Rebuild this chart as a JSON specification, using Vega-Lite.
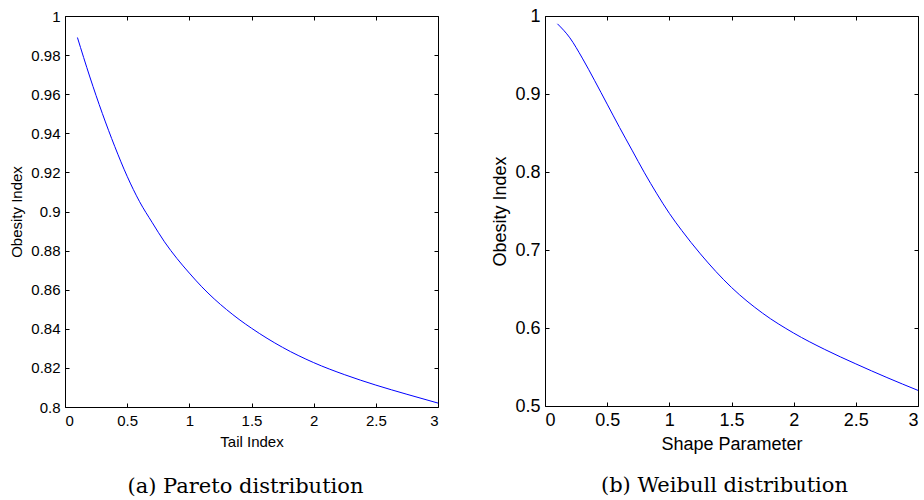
{
  "$schema": "https://vega.github.io/schema/vega-lite/v6.json",
  "background": "white",
  "padding": {"left": 9, "top": 6, "right": 3, "bottom": 5},
  "spacing": 107,
  "bounds": "flush",
  "config": {
    "view": {"stroke": "black", "strokeWidth": 1},
    "axis": {
      "domain": false,
      "grid": false,
      "ticks": true,
      "tickColor": "black",
      "tickWidth": 1,
      "tickSize": -4,
      "labelFont": "Liberation Sans",
      "titleFont": "Liberation Sans",
      "labelColor": "black",
      "titleColor": "black",
      "titleFontWeight": "normal"
    }
  },
  "datasets": {
    "pareto": [
      {"x": 0.1, "y": 0.989},
      {"x": 0.2, "y": 0.9688},
      {"x": 0.3, "y": 0.9502},
      {"x": 0.4, "y": 0.9333},
      {"x": 0.5, "y": 0.918},
      {"x": 0.6, "y": 0.905},
      {"x": 0.7, "y": 0.8945},
      {"x": 0.8, "y": 0.8845},
      {"x": 0.9, "y": 0.876},
      {"x": 1.0, "y": 0.8685},
      {"x": 1.1, "y": 0.8615},
      {"x": 1.2, "y": 0.8553},
      {"x": 1.3, "y": 0.8498},
      {"x": 1.4, "y": 0.8448},
      {"x": 1.5, "y": 0.8403},
      {"x": 1.75, "y": 0.8305},
      {"x": 2.0, "y": 0.8227},
      {"x": 2.25, "y": 0.8165},
      {"x": 2.5, "y": 0.8112},
      {"x": 2.75, "y": 0.8065},
      {"x": 3.0, "y": 0.802}
    ],
    "weibull": [
      {"x": 0.1, "y": 0.990},
      {"x": 0.2, "y": 0.972},
      {"x": 0.3, "y": 0.946},
      {"x": 0.4, "y": 0.917},
      {"x": 0.5, "y": 0.887},
      {"x": 0.6, "y": 0.857},
      {"x": 0.7, "y": 0.828},
      {"x": 0.8, "y": 0.799},
      {"x": 0.9, "y": 0.772},
      {"x": 1.0, "y": 0.747},
      {"x": 1.1, "y": 0.725},
      {"x": 1.25, "y": 0.695},
      {"x": 1.5, "y": 0.652},
      {"x": 1.75, "y": 0.619},
      {"x": 2.0, "y": 0.5935},
      {"x": 2.25, "y": 0.5725},
      {"x": 2.5, "y": 0.554},
      {"x": 2.75, "y": 0.5365},
      {"x": 3.0, "y": 0.520}
    ]
  },
  "hconcat": [
    {
      "width": 373,
      "height": 391,
      "title": {"text": "(a) Pareto distribution", "orient": "bottom", "anchor": "middle", "font": "DejaVu Serif", "fontSize": 21, "fontWeight": "normal", "color": "black", "offset": 27, "dx": -6},
      "layer": [
        {
          "data": {"name": "pareto"},
          "mark": {"type": "line", "color": "#0000ff", "strokeWidth": 1, "interpolate": "monotone"},
          "encoding": {
            "x": {"field": "x", "type": "quantitative", "scale": {"domain": [0, 3], "nice": false},
              "axis": {"orient": "bottom", "values": [0, 0.5, 1, 1.5, 2, 2.5, 3], "labelExpr": "format(datum.value, '.1~f')", "labelFontSize": 15, "labelPadding": 10, "title": "Tail Index", "titleFontSize": 15, "titlePadding": 6}},
            "y": {"field": "y", "type": "quantitative", "scale": {"domain": [0.8, 1], "nice": false, "zero": false},
              "axis": {"orient": "left", "values": [0.8, 0.82, 0.84, 0.86, 0.88, 0.9, 0.92, 0.94, 0.96, 0.98, 1], "labelExpr": "format(datum.value, '.2~f')", "labelFontSize": 15, "labelPadding": 9, "title": "Obesity Index", "titleFontSize": 15, "titlePadding": 6}}
          }
        },
        {
          "data": {"name": "pareto"},
          "mark": {"type": "line", "opacity": 0},
          "encoding": {
            "x": {"field": "x", "type": "quantitative", "scale": {"domain": [0, 3], "nice": false},
              "axis": {"orient": "top", "values": [0, 0.5, 1, 1.5, 2, 2.5, 3], "labels": false, "title": null}},
            "y": {"field": "y", "type": "quantitative", "scale": {"domain": [0.8, 1], "nice": false, "zero": false},
              "axis": {"orient": "right", "values": [0.8, 0.82, 0.84, 0.86, 0.88, 0.9, 0.92, 0.94, 0.96, 0.98, 1], "labels": false, "title": null}}
          }
        }
      ],
      "resolve": {"axis": {"x": "independent", "y": "independent"}}
    },
    {
      "width": 373,
      "height": 390,
      "title": {"text": "(b) Weibull distribution", "orient": "bottom", "anchor": "middle", "font": "DejaVu Serif", "fontSize": 21, "fontWeight": "normal", "color": "black", "offset": 22, "dx": -7},
      "layer": [
        {
          "data": {"name": "weibull"},
          "mark": {"type": "line", "color": "#0000ff", "strokeWidth": 1, "interpolate": "monotone"},
          "encoding": {
            "x": {"field": "x", "type": "quantitative", "scale": {"domain": [0, 3], "nice": false},
              "axis": {"orient": "bottom", "values": [0, 0.5, 1, 1.5, 2, 2.5, 3], "labelExpr": "format(datum.value, '.1~f')", "labelFontSize": 18, "labelPadding": 9, "title": "Shape Parameter", "titleFontSize": 18, "titlePadding": 6}},
            "y": {"field": "y", "type": "quantitative", "scale": {"domain": [0.5, 1], "nice": false, "zero": false},
              "axis": {"orient": "left", "values": [0.5, 0.6, 0.7, 0.8, 0.9, 1], "labelExpr": "format(datum.value, '.1~f')", "labelFontSize": 18, "labelPadding": 9, "title": "Obesity Index", "titleFontSize": 18, "titlePadding": 5}}
          }
        },
        {
          "data": {"name": "weibull"},
          "mark": {"type": "line", "opacity": 0},
          "encoding": {
            "x": {"field": "x", "type": "quantitative", "scale": {"domain": [0, 3], "nice": false},
              "axis": {"orient": "top", "values": [0, 0.5, 1, 1.5, 2, 2.5, 3], "labels": false, "title": null}},
            "y": {"field": "y", "type": "quantitative", "scale": {"domain": [0.5, 1], "nice": false, "zero": false},
              "axis": {"orient": "right", "values": [0.5, 0.6, 0.7, 0.8, 0.9, 1], "labels": false, "title": null}}
          }
        }
      ],
      "resolve": {"axis": {"x": "independent", "y": "independent"}}
    }
  ]
}
